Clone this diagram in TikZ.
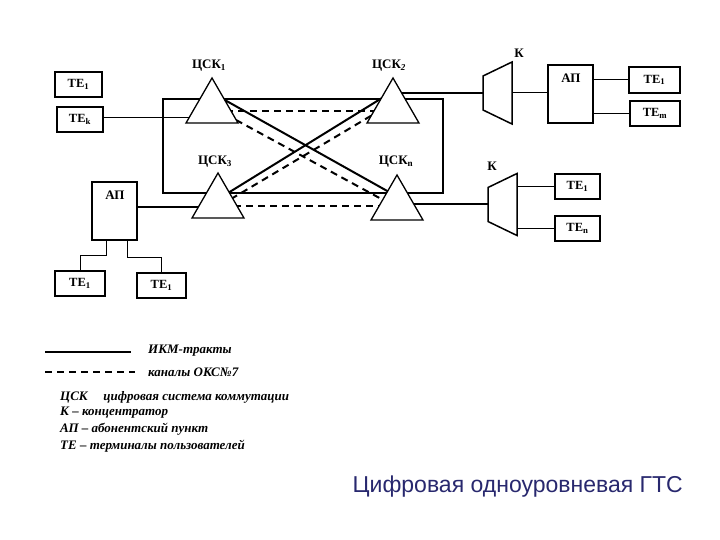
\documentclass[tikz,border=0pt]{standalone}
\usepackage{fontspec}
\setmainfont{Liberation Serif}
\newfontfamily\titlefont{Liberation Sans}
\usetikzlibrary{shapes.geometric,calc}
\pgfdeclarelayer{bg}
\pgfsetlayers{bg,main}
\definecolor{titleblue}{RGB}{40,40,110}
\tikzset{
  tri/.style={regular polygon, regular polygon sides=3, minimum size=60pt, inner sep=0pt, outer sep=0pt, draw, line width=1.3pt, fill=white},
  box/.style={draw, line width=1.5pt, inner sep=0pt, fill=white, font=\bfseries\fontsize{12.5}{13}\selectfont},
  thickbox/.style={box, line width=2pt},
  thinbox/.style={box, line width=1.1pt},
  lbl/.style={font=\bfseries\fontsize{13}{14}\selectfont, inner sep=0pt},
  ikm/.style={line width=2pt},
  oks/.style={line width=2pt, dash pattern=on 7pt off 5pt},
  thinl/.style={line width=1pt},
  kshape/.style={line width=1.5pt, fill=white, line join=miter},
  kbody/.style={minimum width=29pt, minimum height=62pt, inner sep=0pt, outer sep=0pt},
  legend/.style={font=\bfseries\itshape\fontsize{13}{14}\selectfont, anchor=west, inner sep=0pt},
}
\begin{document}
\begin{tikzpicture}[x=1pt,y=-1pt]
\useasboundingbox (0,0) rectangle (720,540);

% switching systems
\node[tri] (c1) at (212,108) {};
\node[tri] (c2) at (393,108) {};
\node[tri] (c3) at (218,203) {};
\node[tri] (cn) at (397,205) {};
\node[lbl] (lc1) at (209,66) {ЦСК\textsubscript{1}};
\node[lbl] (lc2) at (389,66) {ЦСК\textsubscript{\itshape 2}};
\node[lbl] (lc3) at (215,162) {ЦСК\textsubscript{3}};
\node[lbl] (lcn) at (396,162) {ЦСК\textsubscript{n}};

% left terminals
\node[thickbox, minimum width=47pt, minimum height=25pt] (te1l) at (78.5,84.5) {ТЕ\textsubscript{1}};
\node[box, minimum width=46pt, minimum height=25pt] (tek) at (80,119.5) {ТЕ\textsubscript{k}};

% concentrator 1 and AP
\node[kbody] (k1) at (497.5,93) {};
\node[lbl] (lk1) at (519,53) {К};
\node[thickbox, minimum width=45pt, minimum height=58pt] (ap1) at (570.5,94) {};
\node[lbl] (lap1) at (571,78) {АП};
\node[thickbox, minimum width=51pt, minimum height=26pt] (te1r) at (654.5,80) {ТЕ\textsubscript{1}};
\node[box, minimum width=50pt, minimum height=25pt] (temr) at (655,113.5) {ТЕ\textsubscript{m}};

% concentrator 2
\node[kbody] (k2) at (502.5,204.5) {};
\node[lbl] (lk2) at (492,166) {К};
\node[box, minimum width=45pt, minimum height=25pt] (te1c) at (577.5,186.5) {ТЕ\textsubscript{1}};
\node[box, minimum width=45pt, minimum height=25pt] (tenc) at (577.5,228.5) {ТЕ\textsubscript{n}};

% AP bottom-left
\node[thickbox, minimum width=45pt, minimum height=58pt] (ap2) at (114.5,211) {};
\node[lbl] (lap2) at (115,195) {АП};
\node[thickbox, minimum width=50pt, minimum height=25pt] (te1a) at (80,283.5) {ТЕ\textsubscript{1}};
\node[thinbox, minimum width=49pt, minimum height=25pt] (te1b) at (161.5,285.5) {ТЕ\textsubscript{1}};

% K shapes
\draw[kshape] (k1.north east) -- (k1.south east) -- ([yshift=14pt]k1.south west) -- ([yshift=-14pt]k1.north west) -- cycle;
\draw[kshape] (k2.north east) -- (k2.south east) -- ([yshift=14pt]k2.south west) -- ([yshift=-14pt]k2.north west) -- cycle;

\coordinate (rtl) at (163,99);
\coordinate (rbr) at (443,193);

\begin{pgfonlayer}{bg}
  \draw[ikm] (rtl) rectangle (rbr);
  % mesh
  \draw[ikm] ($(c1)+(11,-9)$) -- ($(cn)+(-8,-13)$);
  \draw[ikm] ($(c3)+(10,-10)$) -- ($(c2)+(-11,-10)$);
  \draw[oks] ($(c1)+(14,3)$) -- ($(c2)+(-13,3)$);
  \draw[oks] ($(c1)+(24,12)$) -- ($(cn)+(-12,-4)$);
  \draw[oks] ($(c3)+(13,-4)$) -- ($(c2)+(-19,6)$);
  \draw[oks] ($(c3)+(16,3)$) -- ($(cn)+(-15,1)$);
  % access lines
  \draw[thinl] ([yshift=2pt]tek.east) -- ([yshift=2pt]tek.east -| c1.center);
  \draw[ikm] (c2.center |- k1.west) -- (k1.west);
  \draw[thinl] (k1.east) -- (k1.east -| ap1.west);
  \draw[thinl] (ap1.east |- te1r.west) -- (te1r.west);
  \draw[thinl] (ap1.east |- temr.west) -- (temr.west);
  \draw[ikm] (cn.center |- k2.west) -- (k2.west);
  \draw[thinl] (te1c.west -| k2.east) -- (te1c.west);
  \draw[thinl] (tenc.west -| k2.east) -- (tenc.west);
  \draw[ikm] ([yshift=4pt]ap2.east) -- ([yshift=4pt]ap2.east -| c3.center);
  \draw[thinl] ([xshift=-8.5pt]ap2.south) -- ++(0,14) -| (te1a.north);
  \draw[thinl] ([xshift=12.5pt]ap2.south) -- ++(0,16) -| (te1b.north);
\end{pgfonlayer}

% legend
\coordinate (l1a) at (45,352); \coordinate (l1b) at (131,352);
\coordinate (l2a) at (45,372); \coordinate (l2b) at (135,372);
\draw[ikm] (l1a) -- (l1b);
\draw[oks] (l2a) -- (l2b);
\node[legend] (t1) at (148,351) {ИКМ-тракты};
\node[legend] (t2) at (148,372) {каналы ОКС№7};
\node[legend] (t3) at (60,397) {ЦСК\hspace{1.2em}цифровая система коммутации};
\node[legend] (t4) at (60,413) {К – концентратор};
\node[legend] (t5) at (60,429) {АП – абонентский пункт};
\node[legend] (t6) at (60,446) {ТЕ – терминалы пользователей};

% title
\node[font=\titlefont\fontsize{23}{26}\selectfont, text=titleblue, anchor=east, inner sep=0pt] (title) at (683,487) {Цифровая одноуровневая ГТС};
\end{tikzpicture}
\end{document}
